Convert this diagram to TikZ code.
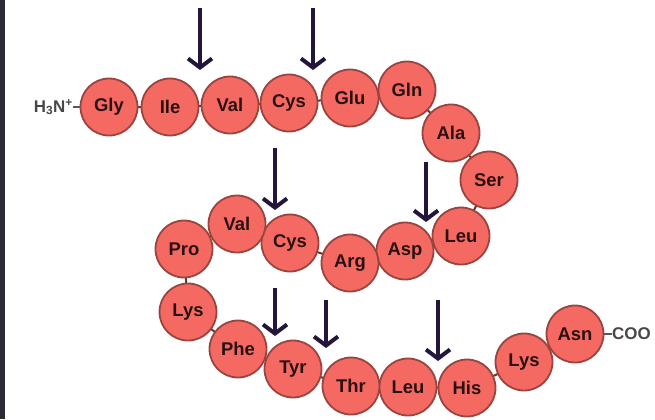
\documentclass[tikz,border=0pt]{standalone}
\usepackage{fontspec}
\setmainfont{Liberation Sans}
\usetikzlibrary{arrows.meta}
\definecolor{beadfill}{HTML}{F46A62}
\definecolor{beadline}{HTML}{9A4440}
\definecolor{arrowink}{HTML}{24163A}
\definecolor{labelink}{HTML}{2A1010}
\definecolor{edgebar}{HTML}{2B2B33}
\tikzset{
  bead/.style={circle, draw=beadline, line width=1.8bp, fill=beadfill,
    minimum size=57bp, inner sep=0pt, text=labelink,
    font=\fontsize{18.5}{18.5}\selectfont\bfseries},
  bond/.style={draw=beadline!70!black, line width=2bp},
  cut/.style={draw=arrowink, line width=4bp,
    -{Straight Barb[length=9bp, width=24bp, line width=4bp]}},
  terminus/.style={inner sep=0pt, text=black!72,
    font=\fontsize{17}{17}\selectfont\bfseries}
}
\begin{document}
\begin{tikzpicture}[x=1bp, y=-1bp]
  \useasboundingbox (0,0) rectangle (655,419);
  \fill[white] (0,0) rectangle (655,419);
  \clip (0,0) rectangle (655,419);
  \fill[edgebar] (0,0) rectangle (5,419);

  % peptide chain coordinates
  \coordinate (pGly)  at (109,107);
  \coordinate (pIle)  at (170,107);
  \coordinate (pValA) at (230,105);
  \coordinate (pCysA) at (289,103);
  \coordinate (pGlu)  at (350,98);
  \coordinate (pGln)  at (407,90);
  \coordinate (pAla)  at (451,133);
  \coordinate (pSer)  at (489,180);
  \coordinate (pLeuA) at (461,236);
  \coordinate (pAsp)  at (405,251);
  \coordinate (pArg)  at (350,263);
  \coordinate (pCysB) at (290,243);
  \coordinate (pValB) at (237,224);
  \coordinate (pPro)  at (184,249);
  \coordinate (pLysA) at (188,312);
  \coordinate (pPhe)  at (238,349);
  \coordinate (pTyr)  at (293,369);
  \coordinate (pThr)  at (351,386);
  \coordinate (pLeuB) at (408,387);
  \coordinate (pHis)  at (467,388);
  \coordinate (pLysB) at (524,362);
  \coordinate (pAsn)  at (575,334);

  % bonds between neighbouring residues
  \draw[bond] (pGly) -- (pIle) -- (pValA) -- (pCysA) -- (pGlu) -- (pGln)
    -- (pAla) -- (pSer) -- (pLeuA) -- (pAsp) -- (pArg) -- (pCysB)
    -- (pValB) -- (pPro) -- (pLysA) -- (pPhe) -- (pTyr) -- (pThr)
    -- (pLeuB) -- (pHis) -- (pLysB) -- (pAsn);

  % residues
  \node[bead] (gly)  at (pGly)  {Gly};
  \node[bead] (ile)  at (pIle)  {Ile};
  \node[bead] (valA) at (pValA) {Val};
  \node[bead] (cysA) at (pCysA) {Cys};
  \node[bead] (glu)  at (pGlu)  {Glu};
  \node[bead] (gln)  at (pGln)  {Gln};
  \node[bead] (ala)  at (pAla)  {Ala};
  \node[bead] (ser)  at (pSer)  {Ser};
  \node[bead] (leuA) at (pLeuA) {Leu};
  \node[bead] (asp)  at (pAsp)  {Asp};
  \node[bead] (arg)  at (pArg)  {Arg};
  \node[bead] (cysB) at (pCysB) {Cys};
  \node[bead] (valB) at (pValB) {Val};
  \node[bead] (pro)  at (pPro)  {Pro};
  \node[bead] (lysA) at (pLysA) {Lys};
  \node[bead] (phe)  at (pPhe)  {Phe};
  \node[bead] (tyr)  at (pTyr)  {Tyr};
  \node[bead] (thr)  at (pThr)  {Thr};
  \node[bead] (leuB) at (pLeuB) {Leu};
  \node[bead] (his)  at (pHis)  {His};
  \node[bead] (lysB) at (pLysB) {Lys};
  \node[bead] (asn)  at (pAsn)  {Asn};

  % termini
  \node[terminus, anchor=east] (nterm) at (73,107)
    {H\textsubscript{3}N\textsuperscript{+}};
  \draw[black!65, line width=1.2bp] (nterm.east) -- (gly.west);
  \node[terminus, anchor=west] (cterm) at (612,334) {COO};
  \draw[black!65, line width=1.2bp] (asn.east) -- (cterm.west);

  % cleavage sites
  \coordinate (a1s) at (200,8);   \coordinate (a1e) at (200,70);
  \coordinate (a2s) at (313,8);   \coordinate (a2e) at (313,70);
  \coordinate (a3s) at (275,148); \coordinate (a3e) at (275,210);
  \coordinate (a4s) at (426,162); \coordinate (a4e) at (426,222);
  \coordinate (a5s) at (275,288); \coordinate (a5e) at (275,336);
  \coordinate (a6s) at (326,300); \coordinate (a6e) at (326,348);
  \coordinate (a7s) at (438,300); \coordinate (a7e) at (438,361);
  \draw[cut] (a1s) -- (a1e);
  \draw[cut] (a2s) -- (a2e);
  \draw[cut] (a3s) -- (a3e);
  \draw[cut] (a4s) -- (a4e);
  \draw[cut] (a5s) -- (a5e);
  \draw[cut] (a6s) -- (a6e);
  \draw[cut] (a7s) -- (a7e);
\end{tikzpicture}
\end{document}
